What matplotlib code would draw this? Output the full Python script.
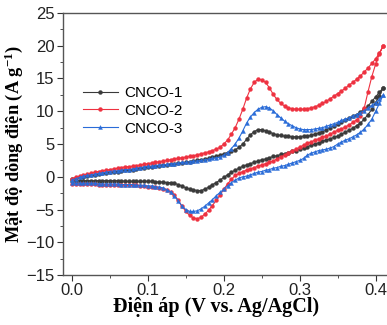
import numpy as np
import matplotlib
matplotlib.use("Agg")
import matplotlib.pyplot as plt
from matplotlib.ticker import MultipleLocator

plt.rcParams["font.family"] = ["Liberation Sans", "DejaVu Sans"]
plt.rcParams["mathtext.fontset"] = "custom"
plt.rcParams["mathtext.rm"] = "Liberation Serif:bold"
plt.rcParams["mathtext.it"] = "Liberation Serif:bold"
plt.rcParams["mathtext.bf"] = "Liberation Serif:bold"

# Potential grid (V vs. Ag/AgCl), 5 mV steps
potential = np.round(np.arange(0, 0.4101, 0.005), 3)

# CNCO-1: anodic (forward) and cathodic (reverse) sweeps, listed at ascending potential
cnco1_fwd = [-0.4, -0.2, -0.1, 0.0, 0.1, 0.2, 0.3, 0.4, 0.5, 0.6, 0.7, 0.8, 0.8, 0.9, 1.0,
             1.0, 1.1, 1.2, 1.3, 1.4, 1.5, 1.5, 1.6, 1.7, 1.8, 1.8, 1.9, 2.0, 2.1, 2.1,
             2.2, 2.3, 2.4, 2.5, 2.6, 2.7, 2.8, 3.0, 3.1, 3.3, 3.5, 3.7, 3.9, 4.1, 4.5,
             5.0, 5.7, 6.4, 6.9, 7.2, 7.2, 7.0, 6.8, 6.6, 6.4, 6.3, 6.2, 6.2, 6.1, 6.1,
             6.1, 6.2, 6.2, 6.3, 6.5, 6.7, 6.9, 7.2, 7.5, 7.8, 8.0, 8.3, 8.6, 8.9, 9.2,
             9.5, 9.9, 10.3, 10.8, 11.5, 12.2, 12.9, 13.6]
cnco1_rev = [-0.6, -0.6, -0.6, -0.6, -0.6, -0.6, -0.6, -0.6, -0.6, -0.6, -0.6, -0.6, -0.6, -0.6, -0.7,
             -0.7, -0.7, -0.7, -0.7, -0.7, -0.7, -0.7, -0.8, -0.8, -0.8, -0.9, -0.9, -1.0, -1.2, -1.4,
             -1.7, -1.9, -2.0, -2.1, -2.1, -1.9, -1.6, -1.2, -0.9, -0.5, -0.1, 0.3, 0.7, 1.0, 1.3,
             1.6, 1.8, 2.0, 2.2, 2.4, 2.6, 2.7, 2.9, 3.1, 3.2, 3.4, 3.5, 3.7, 3.9, 4.0,
             4.2, 4.4, 4.6, 4.8, 5.0, 5.2, 5.4, 5.6, 5.8, 6.0, 6.2, 6.5, 6.8, 7.1, 7.4,
             7.8, 8.2, 8.8, 9.5, 10.3, 11.3, 12.4, 13.6]

# CNCO-2
cnco2_fwd = [-0.3, -0.1, 0.1, 0.25, 0.4, 0.55, 0.7, 0.8, 0.9, 1.0, 1.1, 1.2, 1.3, 1.4, 1.5,
             1.55, 1.6, 1.7, 1.8, 1.9, 2.0, 2.1, 2.2, 2.3, 2.4, 2.5, 2.6, 2.7, 2.8, 2.9,
             3.0, 3.1, 3.2, 3.35, 3.5, 3.65, 3.8, 4.0, 4.2, 4.5, 5.0, 5.6, 6.5, 7.5, 8.8,
             10.3, 12.0, 13.4, 14.4, 14.9, 14.8, 14.4, 13.6, 12.6, 11.8, 11.2, 10.8, 10.5, 10.4, 10.3,
             10.3, 10.3, 10.4, 10.5, 10.7, 10.9, 11.2, 11.5, 11.9, 12.3, 12.7, 13.1, 13.5, 14.0, 14.4,
             14.9, 15.4, 16.0, 16.6, 17.3, 18.0, 18.9, 20.0]
cnco2_rev = [-1.1, -1.1, -1.1, -1.1, -1.1, -1.1, -1.1, -1.2, -1.2, -1.2, -1.2, -1.2, -1.2, -1.2, -1.2,
             -1.3, -1.3, -1.3, -1.4, -1.4, -1.5, -1.5, -1.6, -1.7, -1.8, -2.0, -2.3, -2.8, -3.6, -4.5,
             -5.3, -5.9, -6.3, -6.4, -6.2, -5.7, -5.1, -4.4, -3.6, -2.8, -1.9, -1.1, -0.4, 0.2, 0.5,
             0.8, 1.0, 1.2, 1.4, 1.6, 1.8, 2.0, 2.2, 2.4, 2.7, 3.0, 3.3, 3.6, 3.9, 4.2,
             4.5, 4.8, 5.1, 5.3, 5.6, 5.8, 6.0, 6.2, 6.5, 6.8, 7.1, 7.3, 7.6, 7.9, 8.3,
             8.7, 9.2, 10.5, 13.0, 15.3, 17.2, 18.8, 20.0]

# CNCO-3
cnco3_fwd = [-0.5, -0.3, -0.1, 0.1, 0.2, 0.3, 0.4, 0.5, 0.6, 0.7, 0.8, 0.9, 0.9, 1.0, 1.1,
             1.1, 1.2, 1.3, 1.4, 1.5, 1.6, 1.6, 1.7, 1.8, 1.8, 1.9, 2.0, 2.0, 2.1, 2.2,
             2.2, 2.3, 2.4, 2.4, 2.5, 2.6, 2.7, 2.8, 2.9, 3.0, 3.3, 3.7, 4.3, 5.0, 5.9,
             7.0, 8.2, 9.1, 9.8, 10.3, 10.6, 10.7, 10.5, 10.1, 9.5, 9.0, 8.5, 8.1, 7.8, 7.5,
             7.3, 7.2, 7.2, 7.2, 7.3, 7.4, 7.5, 7.7, 7.9, 8.1, 8.3, 8.6, 8.8, 9.0, 9.3,
             9.5, 9.8, 10.1, 10.5, 10.9, 11.3, 11.8, 12.5]
cnco3_rev = [-1.0, -1.0, -1.0, -1.0, -1.0, -1.0, -1.0, -1.1, -1.1, -1.1, -1.1, -1.1, -1.1, -1.2, -1.2,
             -1.2, -1.2, -1.3, -1.3, -1.3, -1.4, -1.4, -1.5, -1.6, -1.7, -2.0, -2.3, -2.9, -3.7, -4.5,
             -5.0, -5.3, -5.3, -5.2, -4.9, -4.5, -4.0, -3.5, -2.9, -2.4, -1.9, -1.4, -0.9, -0.5, -0.2,
             0.0, 0.1, 0.3, 0.5, 0.7, 0.8, 1.0, 1.1, 1.3, 1.4, 1.6, 1.7, 1.9, 2.1, 2.3,
             2.5, 2.8, 3.3, 3.6, 3.8, 4.0, 4.1, 4.2, 4.4, 4.6, 5.0, 5.3, 5.6, 5.8, 6.1,
             6.4, 6.8, 7.3, 8.0, 8.8, 10.0, 11.2, 12.5]

labels = ["CNCO-1", "CNCO-2", "CNCO-3"]
colors = ["#3a3a3a", "#ee3140", "#2a6cd8"]
markers = ["o", "o", "^"]
sweeps = [(cnco1_fwd, cnco1_rev), (cnco2_fwd, cnco2_rev), (cnco3_fwd, cnco3_rev)]

fig = plt.figure(figsize=(3.87, 3.25), dpi=100)
ax = fig.add_axes([63 / 387, 1 - 275 / 325, 343 / 387, 262 / 325])

for (fwd, rev), lab, col, mk in zip(sweeps, labels, colors, markers):
    # closed CV loop: forward sweep then reverse sweep back to the start
    v = np.concatenate([potential, potential[::-1]])
    j = np.concatenate([fwd, rev[::-1]])
    ax.plot(v, j, color=col, lw=0.8, marker=mk, ms=2.8, mec=col, mfc=col,
            mew=0.3, label=lab)

ax.set_xlim(-0.0118, 0.44)
ax.set_ylim(-15, 25)
ax.xaxis.set_major_locator(MultipleLocator(0.1))
ax.xaxis.set_minor_locator(MultipleLocator(0.05))
ax.yaxis.set_major_locator(MultipleLocator(5))
ax.yaxis.set_minor_locator(MultipleLocator(2.5))
ax.set_xticks([0.0, 0.1, 0.2, 0.3, 0.4])
ax.set_xticklabels(["0.0", "0.1", "0.2", "0.3", "0.4"])
ax.tick_params(which="major", direction="out", length=4, width=0.8,
               labelsize=12, colors="#333333", labelcolor="#222222", pad=2)
ax.tick_params(which="minor", direction="out", length=2, width=0.6, colors="#333333")
for s in ax.spines.values():
    s.set_color("#555555")
    s.set_linewidth(1.0)

ax.set_xlabel("Điện áp (V vs. Ag/AgCl)", family="Liberation Serif",
              fontweight="bold", fontsize=14.5, labelpad=1.5)
ax.xaxis.set_label_coords(0.445, -0.085)
ax.set_ylabel("Mật độ dòng điện (A g$^{-1}$)", family="Liberation Serif",
              fontweight="bold", fontsize=13.2, labelpad=1)

ax.legend(loc="upper left", bbox_to_anchor=(0.04, 0.745), frameon=False,
          fontsize=11, handlelength=2.3, handletextpad=0.4, labelspacing=0.25,
          borderaxespad=0)

fig.savefig("out.png", dpi=100)
